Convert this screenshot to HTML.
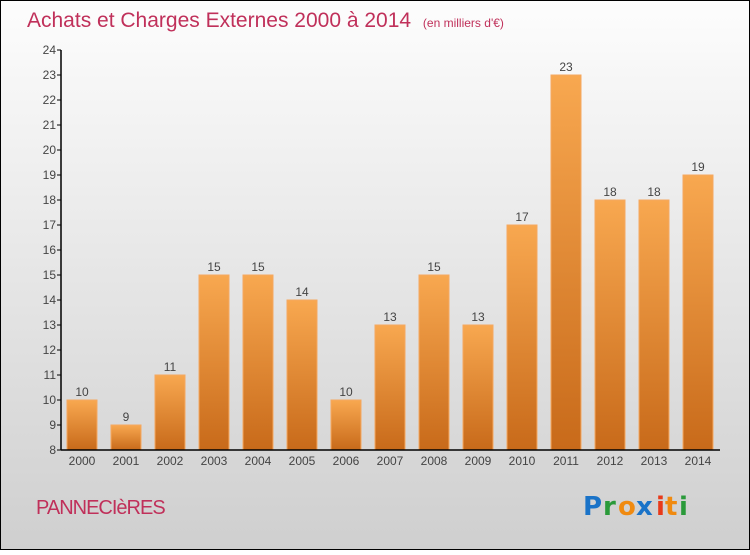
<!DOCTYPE html>
<html><head><meta charset="utf-8"><style>
html,body{margin:0;padding:0}
body{width:750px;height:550px;overflow:hidden;font-family:"Liberation Sans",sans-serif}
</style></head><body>
<svg id="chart" width="750" height="550" xmlns="http://www.w3.org/2000/svg">
<defs>
<linearGradient id="bg" x1="0" y1="0" x2="0" y2="1"><stop offset="0" stop-color="#fdfdfd"/><stop offset="1" stop-color="#cfcfcf"/></linearGradient>
<linearGradient id="bar" x1="0" y1="0" x2="0" y2="1"><stop offset="0" stop-color="#f8a850"/><stop offset="1" stop-color="#c86a1a"/></linearGradient>
</defs>
<rect x="0.5" y="0.5" width="749" height="549" fill="url(#bg)" stroke="#000"/>
<text x="27" y="27" font-size="21" fill="#c0305a">Achats et Charges Externes 2000 à 2014 <tspan font-size="12" dx="6">(en milliers d'€)</tspan></text>
<text x="36" y="514" font-size="20" fill="#c0305a" letter-spacing="-1">PANNECIèRES</text>
<g font-size="26" font-weight="bold" font-family="'DejaVu Sans',sans-serif">
<text x="583" y="515" fill="#1a73c8">P</text><text x="603" y="515" fill="#2a9a3a">r</text><text x="618" y="515" fill="#f08a10">o</text><text x="636" y="515" fill="#1a73c8">x</text><text x="656" y="515" fill="#e83a1a">i</text><text x="665" y="515" fill="#f08a10">t</text><text x="679" y="515" fill="#2a9a3a">i</text>
</g>
<g id="plot"></g>
</svg>
<script>
const categories=["2000","2001","2002","2003","2004","2005","2006","2007","2008","2009","2010","2011","2012","2013","2014"];
const values=[10,9,11,15,15,14,10,13,15,13,17,23,18,18,19];
const yTicks=[8,9,10,11,12,13,14,15,16,17,18,19,20,21,22,23,24];
const yMin=8,yMax=24,plotTop=50,plotBottom=450,axisX=61;
const y=v=>plotBottom-(v-yMin)/(yMax-yMin)*(plotBottom-plotTop);
const x=i=>82+i*44;
const NS="http://www.w3.org/2000/svg";
const g=document.getElementById('plot');
function mk(t,a){const e=document.createElementNS(NS,t);for(const k in a)e.setAttribute(k,a[k]);g.appendChild(e);return e;}
values.forEach((v,i)=>{
 const r=mk('rect',{x:x(i)-15,y:y(v),width:30,height:plotBottom-y(v),fill:'url(#bar)',stroke:'#f5a860','stroke-width':1});
 
 
 const t=mk('text',{x:x(i),y:y(v)-4,'text-anchor':'middle','font-size':12,fill:'#444'});
 t.textContent=v;
 
 
 const c=mk('text',{x:x(i),y:plotBottom+15,'text-anchor':'middle','font-size':12,fill:'#444'});
 c.textContent=categories[i];
 
 
});
yTicks.forEach(v=>{
 const l=mk('line',{x1:axisX-4,x2:axisX,y1:y(v),y2:y(v),stroke:'#000'});
 
 
 const t=mk('text',{x:axisX-5,y:y(v)+4,'text-anchor':'end','font-size':12,fill:'#444'});
 t.textContent=v;
 
 
});
const ya=mk('line',{x1:axisX,x2:axisX,y1:plotTop,y2:plotBottom,stroke:'#000','stroke-width':1.5});


const xa=mk('line',{x1:axisX,x2:720,y1:plotBottom,y2:plotBottom,stroke:'#000','stroke-width':1.5});


</script>
</body></html>
